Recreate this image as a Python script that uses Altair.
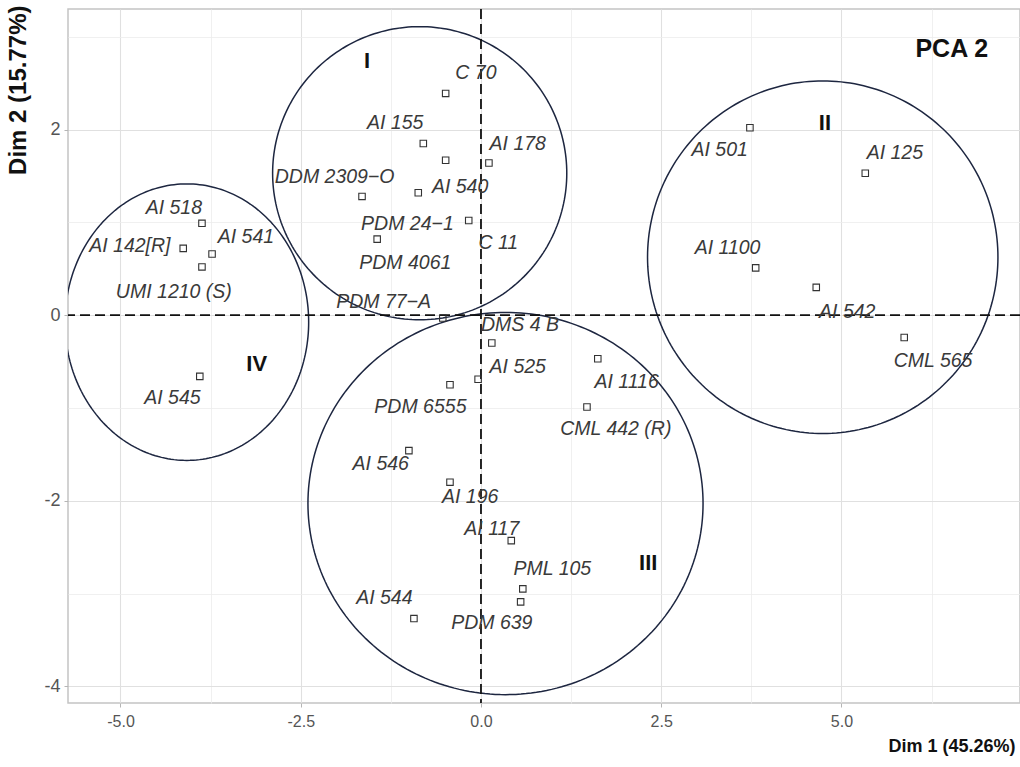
import numpy as np
import pandas as pd
import altair as alt

# Individuals on the first two principal components
names = [
    "C 70", "AI 155", "AI 540", "AI 178", "DDM 2309−O", "PDM 24−1", "C 11", "PDM 4061", "PDM 77−A",
    "AI 501", "AI 125", "AI 1100", "AI 542", "CML 565",
    "AI 518", "AI 142[R]", "AI 541", "UMI 1210 (S)", "AI 545",
    "DMS 4 B", "AI 525", "PDM 6555", "AI 1116", "CML 442 (R)", "AI 546", "AI 196", "AI 117",
    "PML 105", "PDM 639", "AI 544",
]
dim1 = [-0.49, -0.80, -0.49, 0.11, -1.65, -0.87, -0.17, -1.44, -0.53,
        3.73, 5.33, 3.81, 4.65, 5.87,
        -3.87, -4.13, -3.73, -3.87, -3.90,
        0.15, -0.04, -0.43, 1.62, 1.47, -1.00, -0.43, 0.42,
        0.58, 0.55, -0.93]
dim2 = [2.39, 1.85, 1.67, 1.64, 1.28, 1.32, 1.02, 0.82, -0.03,
        2.02, 1.53, 0.51, 0.30, -0.24,
        0.99, 0.72, 0.66, 0.52, -0.66,
        -0.30, -0.69, -0.75, -0.47, -0.99, -1.46, -1.80, -2.43,
        -2.95, -3.09, -3.27]
# Repelled label anchor points (data units)
label_x = [-0.07, -1.19, -0.29, 0.51, -2.03, -1.02, 0.24, -1.05, -1.35,
           3.31, 5.74, 3.42, 5.08, 6.27,
           -4.26, -4.87, -3.26, -4.26, -4.28,
           0.54, 0.51, -0.84, 2.02, 1.87, -1.39, -0.15, 0.15,
           0.99, 0.15, -1.34]
label_y = [2.61, 2.07, 1.38, 1.85, 1.49, 0.98, 0.78, 0.56, 0.14,
           1.78, 1.75, 0.72, 0.03, -0.49,
           1.16, 0.75, 0.84, 0.25, -0.89,
           -0.11, -0.56, -0.99, -0.72, -1.23, -1.60, -1.96, -2.30,
           -2.74, -3.32, -3.05]

# Cluster outlines: centre and semi-axes in data units
groups = ["I", "II", "III", "IV"]
grp_cx = [-0.85, 4.74, 0.34, -4.08]
grp_cy = [1.53, 0.625, -2.03, -0.075]
grp_rx = [2.04, 2.43, 2.74, 1.69]
grp_ry = [1.58, 1.90, 2.06, 1.49]
# Cluster numeral positions
grp_lx = [-1.58, 4.77, 2.32, -3.11]
grp_ly = [2.74, 2.07, -2.67, -0.53]

x_domain = [-5.728, 7.476]
y_domain = [-4.18, 3.30]
x_ticks = [-5.0, -3.75, -2.5, -1.25, 0.0, 1.25, 2.5, 3.75, 5.0, 6.25]
y_ticks = [-4, -3, -2, -1, 0, 1, 2, 3]

pts = pd.DataFrame({"name": names, "d1": dim1, "d2": dim2, "lx": label_x, "ly": label_y})

t = np.linspace(0, 2 * np.pi, 241)
rows = []
for g, cx, cy, rx, ry in zip(groups, grp_cx, grp_cy, grp_rx, grp_ry):
    for i, a in enumerate(t):
        rows.append({"grp": g, "i": i, "ex": cx + rx * np.cos(a), "ey": cy + ry * np.sin(a)})
ell = pd.DataFrame(rows)
numerals = pd.DataFrame({"grp": groups, "x": grp_lx, "y": grp_ly})

FONT = "Liberation Sans, Arial, sans-serif"
NARROW = "Liberation Sans Narrow, Arial Narrow, Liberation Sans, sans-serif"

x_minor = "abs(datum.value/2.5 - round(datum.value/2.5)) > 0.01"
y_minor = "abs(datum.value/2 - round(datum.value/2)) > 0.01"

xscale = alt.Scale(domain=x_domain, nice=False, zero=False)
yscale = alt.Scale(domain=y_domain, nice=False, zero=False)

x_axis = alt.Axis(
    values=x_ticks, title="Dim 1 (45.26%)",
    labelExpr=f"{x_minor} ? '' : replace(format(datum.value, '.1f'), '−', '-')",
    gridColor={"condition": {"test": x_minor, "value": "#ececec"}, "value": "#e0e0e0"},
    gridWidth={"condition": {"test": x_minor, "value": 0.8}, "value": 1.1},
    tickOpacity={"condition": {"test": x_minor, "value": 0}, "value": 1},
    tickColor="#b5b5b5", tickSize=4, domain=False,
    labelFont=NARROW, labelFontSize=16, labelColor="#555555", labelPadding=6,
    titleFont=NARROW, titleFontSize=18, titleFontWeight="bold", titleColor="#111111",
    titleAnchor="end", titleAlign="right", titleBaseline="middle", titleX=947, titleY=43,
)
y_axis = alt.Axis(
    values=y_ticks, title="Dim 2 (15.77%)",
    labelExpr=f"{y_minor} ? '' : replace(format(datum.value, 'd'), '−', '-')",
    gridColor={"condition": {"test": y_minor, "value": "#ececec"}, "value": "#e0e0e0"},
    gridWidth={"condition": {"test": y_minor, "value": 0.8}, "value": 1.1},
    tickOpacity={"condition": {"test": y_minor, "value": 0}, "value": 1},
    tickColor="#b5b5b5", tickSize=4, domain=False,
    labelFont=NARROW, labelFontSize=18, labelColor="#555555", labelPadding=4,
    titleFont=NARROW, titleFontSize=24, titleFontWeight="bold", titleColor="#111111",
    titleAngle=270, titleAlign="right", titleBaseline="middle", titleX=-50, titleY=-4,
)

ellipses = alt.Chart(ell).mark_line(color="#1d2640", strokeWidth=1.5, clip=True).encode(
    x=alt.X("ex:Q", scale=xscale, axis=x_axis),
    y=alt.Y("ey:Q", scale=yscale, axis=y_axis),
    detail="grp:N",
    order=alt.Order("i:Q"),
)

vline = alt.Chart(pd.DataFrame({"v": [0.0]})).mark_rule(
    color="#111111", strokeWidth=1.8, strokeDash=[10, 5]
).encode(x=alt.X("v:Q", scale=xscale))
hline = alt.Chart(pd.DataFrame({"v": [0.0]})).mark_rule(
    color="#111111", strokeWidth=1.8, strokeDash=[10, 5]
).encode(y=alt.Y("v:Q", scale=yscale))

points = alt.Chart(pts).mark_point(
    shape="square", filled=False, size=42, color="#333333", strokeWidth=1.1, opacity=1
).encode(
    x=alt.X("d1:Q", scale=xscale),
    y=alt.Y("d2:Q", scale=yscale),
)

labels = alt.Chart(pts).mark_text(
    font=FONT, fontSize=19.5, fontStyle="italic", color="#3a3a3a",
    align="center", baseline="middle",
).encode(
    x=alt.X("lx:Q", scale=xscale),
    y=alt.Y("ly:Q", scale=yscale),
    text="name:N",
)

numeral_text = alt.Chart(numerals).mark_text(
    font=FONT, fontSize=22, fontWeight="bold", color="#111111",
    align="center", baseline="middle",
).encode(
    x=alt.X("x:Q", scale=xscale),
    y=alt.Y("y:Q", scale=yscale),
    text="grp:N",
)

panel_title = alt.Chart(pd.DataFrame({"x": [6.53], "y": [2.87], "t": ["PCA 2"]})).mark_text(
    font=FONT, fontSize=25, fontWeight="bold", color="#111111",
    align="center", baseline="middle",
).encode(
    x=alt.X("x:Q", scale=xscale),
    y=alt.Y("y:Q", scale=yscale),
    text="t:N",
)

chart = (
    alt.layer(ellipses, vline, hline, points, labels, numeral_text, panel_title)
    .properties(
        width=952, height=694,
        autosize=alt.AutoSizeParams(type="none"),
        padding={"left": 68, "top": 9, "right": 0, "bottom": 64},
        background="white",
    )
    .configure_view(stroke="#c4c4c4", strokeWidth=1.5)
)

chart.save("out.html", embed_options={"renderer": "svg", "actions": False})
